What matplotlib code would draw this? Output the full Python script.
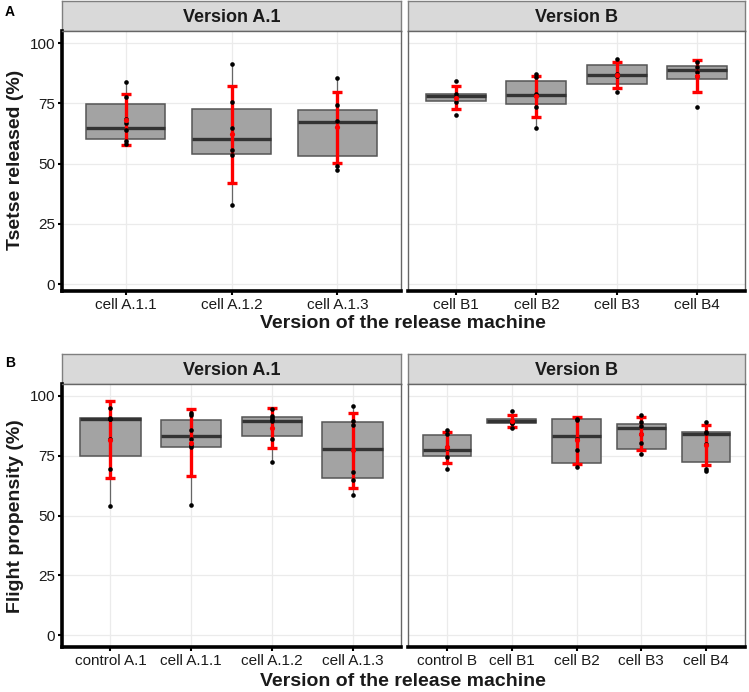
import matplotlib
matplotlib.use("Agg")
import matplotlib.pyplot as plt
import numpy as np

plt.rcParams['font.family'] = ['Liberation Sans', 'DejaVu Sans']

W, H = 749, 692

# ---------------- data: panel A (Tsetse released) ----------------
a_v1_cats = ["cell A.1.1", "cell A.1.2", "cell A.1.3"]
a_v1_q1 = [60.3, 53.9, 53.2]
a_v1_med = [64.7, 60.1, 67.4]
a_v1_q3 = [74.5, 72.6, 72.4]
a_v1_wlo = [58.3, 32.6, 47.5]
a_v1_whi = [84.0, 91.4, 85.3]
a_v1_mean = [68.2, 62.1, 65.0]
a_v1_sd = [10.6, 20.0, 14.8]
a_v1_pts = [[84, 77.5, 68.3, 66.7, 63.8, 59.2, 58.3],
            [91.4, 75.5, 64.6, 55.5, 53.7, 32.6],
            [85.3, 74.4, 67.8, 48.8, 47.5]]

a_vb_cats = ["cell B1", "cell B2", "cell B3", "cell B4"]
a_vb_q1 = [75.9, 74.5, 83.1, 85.1]
a_vb_med = [78.2, 78.6, 86.9, 88.8]
a_vb_q3 = [79.0, 84.4, 90.8, 90.5]
a_vb_wlo = [75.5, 64.6, 79.5, 85.1]
a_vb_whi = [79.0, 87.3, 93.4, 92.0]
a_vb_mean = [77.4, 77.9, 86.8, 86.2]
a_vb_sd = [4.7, 8.6, 5.4, 6.7]
a_vb_pts = [[84.2, 79, 77.5, 75.5, 70.2],
            [87.3, 86, 79, 73.3, 64.6],
            [93.4, 87, 86.5, 79.5],
            [92, 90, 88, 86.5, 73.5]]

# ---------------- data: panel B (Flight propensity) ----------------
b_v1_cats = ["control A.1", "cell A.1.1", "cell A.1.2", "cell A.1.3"]
b_v1_q1 = [74.8, 78.8, 83.4, 65.5]
b_v1_med = [90.3, 83.1, 89.7, 77.9]
b_v1_q3 = [90.8, 89.9, 91.3, 89.3]
b_v1_wlo = [54.1, 54.4, 72.5, 58.5]
b_v1_whi = [95.0, 93.0, 94.5, 96.0]
b_v1_mean = [81.7, 80.5, 86.5, 77.3]
b_v1_sd = [16.2, 13.9, 8.3, 15.6]
b_v1_pts = [[95, 90.6, 90.4, 90.2, 81.8, 69.4, 54.1],
            [93, 91.9, 85.6, 82, 79.5, 78.8, 54.4],
            [94.5, 91.5, 90.8, 90, 89.5, 81.8, 72.5],
            [96, 89.7, 87.7, 77.6, 68.4, 64.8, 58.5]]

b_vb_cats = ["control B", "cell B1", "cell B2", "cell B3", "cell B4"]
b_vb_q1 = [74.7, 88.5, 72.1, 77.8, 72.5]
b_vb_med = [77.6, 89.4, 83.4, 86.4, 84.0]
b_vb_q3 = [83.6, 90.2, 90.2, 88.3, 85.0]
b_vb_wlo = [69.4, 86.4, 70.4, 75.7, 68.5]
b_vb_whi = [85.7, 90.2, 90.5, 91.9, 89.0]
b_vb_mean = [78.5, 89.5, 81.4, 84.2, 79.5]
b_vb_sd = [6.6, 2.5, 9.9, 6.9, 8.5]
b_vb_pts = [[85.7, 84, 78.6, 78.2, 74.6, 69.4],
            [93.9, 89.5, 88.8, 88.5, 86.4],
            [90.5, 90, 81.8, 77.6, 70.4],
            [91.9, 89, 87.5, 84, 80.5, 75.7],
            [89, 85, 84.5, 80, 69.5, 68.5]]

yticks = [0, 25, 50, 75, 100]
strip_titles = ["Version A.1", "Version B"]
xlabel = "Version of the release machine"
ylabel_a = "Tsetse released (%)"
ylabel_b = "Flight propensity (%)"

fig = plt.figure(figsize=(W / 100, H / 100), dpi=100)


def rect(x0, y0, x1, y1):
    return [x0 / W, 1 - y1 / H, (x1 - x0) / W, (y1 - y0) / H]


def strip(x0, y0, x1, y1, text):
    ax = fig.add_axes(rect(x0, y0, x1, y1))
    ax.set_facecolor('#D9D9D9')
    ax.set_xticks([]); ax.set_yticks([])
    for s in ax.spines.values():
        s.set_color('#7F7F7F'); s.set_linewidth(1.0)
    ax.text(0.5, 0.45, text, transform=ax.transAxes, ha='center', va='center',
            fontsize=13, fontweight='bold', color='#1A1A1A')


def panel(x0, y0, x1, y1, ylo, cats, q1, med, q3, wlo, whi, mean, sd, pts, left):
    ax = fig.add_axes(rect(x0, y0, x1, y1))
    n = len(cats)
    pos = np.arange(1, n + 1)
    stats = [dict(q1=q1[i], med=med[i], q3=q3[i], whislo=wlo[i], whishi=whi[i],
                  fliers=[]) for i in range(n)]
    ax.set_axisbelow(True)
    ax.grid(True, color='#EBEBEB', linewidth=0.9)
    ax.bxp(stats, positions=pos, widths=0.75, patch_artist=True, showcaps=False,
           showfliers=False,
           boxprops=dict(facecolor='#A3A3A3', edgecolor='#555555', linewidth=1.1),
           medianprops=dict(color='#333333', linewidth=2.4),
           whiskerprops=dict(color='#666666', linewidth=0.9), zorder=2)
    ax.errorbar(pos, mean, yerr=sd, fmt='none', ecolor='#FF0000', elinewidth=2.4,
                capsize=3.8, capthick=2.4, zorder=3)
    for i in range(n):
        ax.scatter(np.full(len(pts[i]), pos[i]), pts[i], s=11, color='black',
                   zorder=4, linewidths=0)
    ax.scatter(pos, mean, s=14, color='#FF0000', zorder=5, linewidths=0)
    ax.set_xlim(0.4, n + 0.6)
    ax.set_ylim(ylo, 105)
    ax.set_xticks(pos)
    ax.set_xticklabels(cats, fontsize=11, color='#1A1A1A')
    ax.set_yticks(yticks)
    ax.tick_params(axis='x', length=3, width=1.5, color='black', pad=2)
    if left:
        ax.set_yticklabels([str(t) for t in yticks], fontsize=11, color='#1A1A1A')
        ax.tick_params(axis='y', length=3, width=1.5, color='black', pad=2)
    else:
        ax.tick_params(axis='y', length=0, labelleft=False)
    for s in ['top', 'right', 'left']:
        ax.spines[s].set_color('#666666'); ax.spines[s].set_linewidth(1.0)
    ax.spines['bottom'].set_color('black'); ax.spines['bottom'].set_linewidth(2.6)
    if left:
        ax.spines['left'].set_color('black'); ax.spines['left'].set_linewidth(2.6)
    return ax


# top row
strip(62, 1, 401, 31, strip_titles[0])
strip(408, 1, 745, 31, strip_titles[1])
panel(62, 31, 401, 291, -2.9, a_v1_cats, a_v1_q1, a_v1_med, a_v1_q3, a_v1_wlo,
      a_v1_whi, a_v1_mean, a_v1_sd, a_v1_pts, True)
panel(408, 31, 745, 291, -2.9, a_vb_cats, a_vb_q1, a_vb_med, a_vb_q3, a_vb_wlo,
      a_vb_whi, a_vb_mean, a_vb_sd, a_vb_pts, False)

# bottom row
strip(62, 354, 401, 384, strip_titles[0])
strip(408, 354, 745, 384, strip_titles[1])
panel(62, 384, 401, 647, -5, b_v1_cats, b_v1_q1, b_v1_med, b_v1_q3, b_v1_wlo,
      b_v1_whi, b_v1_mean, b_v1_sd, b_v1_pts, True)
panel(408, 384, 745, 647, -5, b_vb_cats, b_vb_q1, b_vb_med, b_vb_q3, b_vb_wlo,
      b_vb_whi, b_vb_mean, b_vb_sd, b_vb_pts, False)

# labels
fig.text(403 / W, 1 - 323 / H, xlabel, ha='center', va='center', fontsize=14,
         fontweight='bold', color='#1A1A1A')
fig.text(403 / W, 1 - 681 / H, xlabel, ha='center', va='center', fontsize=14,
         fontweight='bold', color='#1A1A1A')
fig.text(16 / W, 1 - 160 / H, ylabel_a, ha='center', va='center', rotation=90,
         fontsize=14, fontweight='bold', color='#1A1A1A')
fig.text(16 / W, 1 - 516 / H, ylabel_b, ha='center', va='center', rotation=90,
         fontsize=14, fontweight='bold', color='#1A1A1A')
fig.text(10 / W, 1 - 12 / H, "A", ha='center', va='center', fontsize=10,
         fontweight='bold', color='black')
fig.text(10 / W, 1 - 363 / H, "B", ha='center', va='center', fontsize=10,
         fontweight='bold', color='black')

fig.savefig("out.png", dpi=100)
